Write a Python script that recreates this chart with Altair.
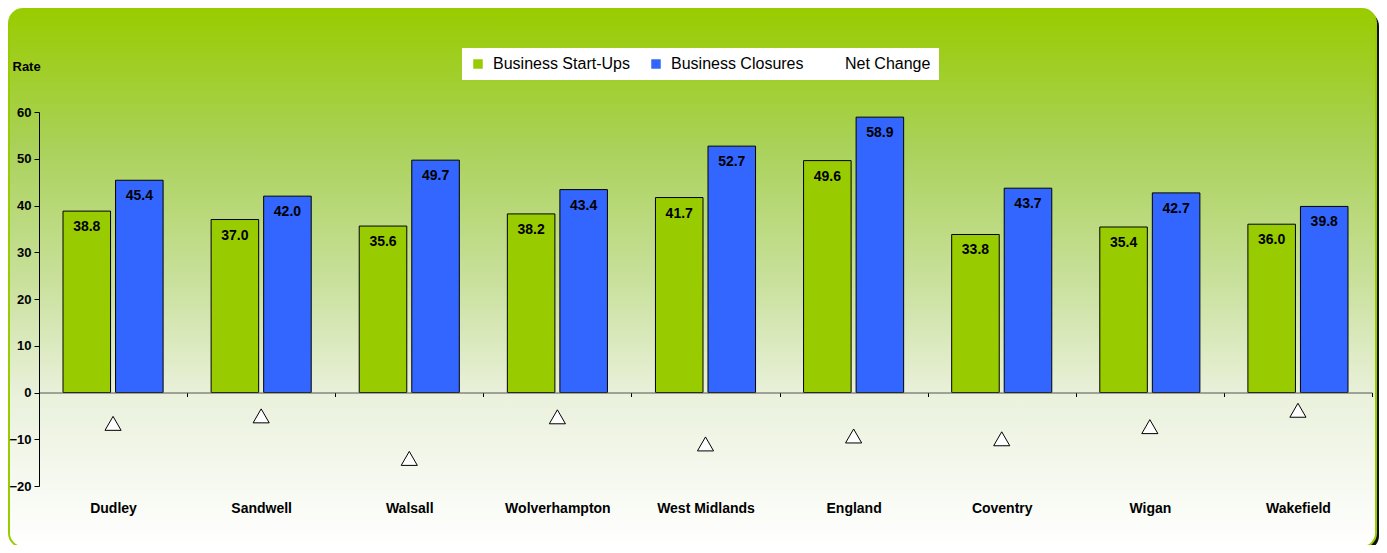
import altair as alt
import pandas as pd

categories = ["Dudley", "Sandwell", "Walsall", "Wolverhampton", "West Midlands",
              "England", "Coventry", "Wigan", "Wakefield"]
startups = [38.8, 37.0, 35.6, 38.2, 41.7, 49.6, 33.8, 35.4, 36.0]
closures = [45.4, 42.0, 49.7, 43.4, 52.7, 58.9, 43.7, 42.7, 39.8]
net_change = [-6.6, -5.0, -14.1, -5.2, -11.0, -9.3, -9.9, -7.3, -3.8]
series = ["Business Start-Ups", "Business Closures", "Net Change"]
y_ticks = [-20, -10, 0, 10, 20, 30, 40, 50, 60]

FONT = "Liberation Sans"
W, H = 1333, 374

bars_df = pd.DataFrame(
    [{"category": c, "series": series[0], "value": v} for c, v in zip(categories, startups)]
    + [{"category": c, "series": series[1], "value": v} for c, v in zip(categories, closures)]
)
net_df = pd.DataFrame({"category": categories, "series": series[2], "value": net_change})
bg_df = pd.DataFrame({"k": [0]})

x_enc = alt.X(
    "category:N", sort=categories, title=None,
    scale=alt.Scale(paddingInner=0, paddingOuter=0),
    axis=alt.Axis(
        offset=-93.5, tickBand="extent", domainColor="#555555", tickColor="#000000",
        tickSize=4, labelAngle=0, labelFont=FONT, labelFontSize=14, labelFontWeight="bold",
        labelColor="#000000", labelPadding=105, grid=False, zindex=2,
    ),
)
xoff_enc = alt.XOffset(
    "series:N", sort=series[:2],
    scale=alt.Scale(domain=series[:2], paddingInner=0.095, paddingOuter=0.457),
)
y_scale = alt.Scale(domain=[-20, 60], nice=False, zero=False)
y_enc = alt.Y(
    "value:Q", scale=y_scale,
    axis=alt.Axis(
        values=y_ticks, title="Rate", titleAngle=0, titleAlign="left", titleBaseline="middle",
        titleX=-27, titleY=-46, titleFont=FONT, titleFontSize=13, titleFontWeight="bold",
        titleColor="#000000", domainColor="#000000", tickColor="#000000", tickSize=5,
        labelFont=FONT, labelFontSize=13, labelFontWeight="bold", labelColor="#000000",
        labelPadding=3, grid=False, zindex=2,
    ),
)
colors = ["#99CC00", "#3366FF", "#FFFFFF"]
color_scale = alt.Scale(domain=series, range=colors)
bar_fill_scale = alt.Scale(domain=series[:2], range=colors[:2])
shape_scale = alt.Scale(domain=series, range=["square", "square", "triangle-up"])

legend = alt.Legend(
    title=None, orient="none", legendX=423, legendY=-64, direction="horizontal",
    fillColor="#FFFFFF", padding=8, labelFont=FONT, labelFontSize=16, labelColor="#000000",
    symbolSize=90, symbolStrokeColor="#000000", symbolStrokeWidth=1, columnPadding=18,
    labelOffset=7, symbolOpacity=1, zindex=2,
)

shadow = alt.Chart(bg_df).mark_rect(cornerRadius=14, fill="#111111").encode(
    x=alt.value(-27), x2=alt.value(1340), y=alt.value(-100), y2=alt.value(438)
)
background = alt.Chart(bg_df).mark_rect(
    cornerRadius=14, stroke="#99CC00", strokeWidth=2,
    fill=alt.Gradient(
        gradient="linear", x1=0, x2=0, y1=0, y2=1,
        stops=[
            alt.GradientStop(offset=0, color="#99CC00"),
            alt.GradientStop(offset=0.25, color="#A9D158"),
            alt.GradientStop(offset=0.5, color="#C8E09A"),
            alt.GradientStop(offset=0.72, color="#EAF1DC"),
            alt.GradientStop(offset=1, color="#FFFFFF"),
        ],
    ),
).encode(x=alt.value(-30), x2=alt.value(1337), y=alt.value(-103), y2=alt.value(435))

bars = alt.Chart(bars_df).mark_bar(stroke="#000000", strokeWidth=1).encode(
    x=x_enc, xOffset=xoff_enc, y=y_enc,
    fill=alt.Fill("series:N", scale=bar_fill_scale, legend=None),
)
labels = alt.Chart(bars_df).mark_text(
    font=FONT, fontSize=14, fontWeight="bold", color="#000000", dy=16, baseline="middle"
).encode(x=x_enc, xOffset=xoff_enc, y=alt.Y("value:Q", scale=y_scale), text=alt.Text("value:Q", format=".1f"))

points = alt.Chart(net_df).mark_point(
    filled=True, size=260, stroke="#000000", strokeWidth=1, opacity=1
).encode(
    x=alt.X("category:N", sort=categories),
    y=alt.Y("value:Q", scale=y_scale),
    color=alt.Color("series:N", scale=color_scale, legend=legend),
    shape=alt.Shape("series:N", scale=shape_scale, legend=legend),
)

chart = alt.layer(shadow, background, bars, labels, points).properties(
    width=W, height=H,
    autosize=alt.AutoSizeParams(type="none"),
    padding={"left": 31, "top": 104, "right": 7, "bottom": 59},
    background="#FFFFFF",
).configure_view(stroke=None)

chart.save("out.html", embed_options={"renderer": "svg", "actions": False})
